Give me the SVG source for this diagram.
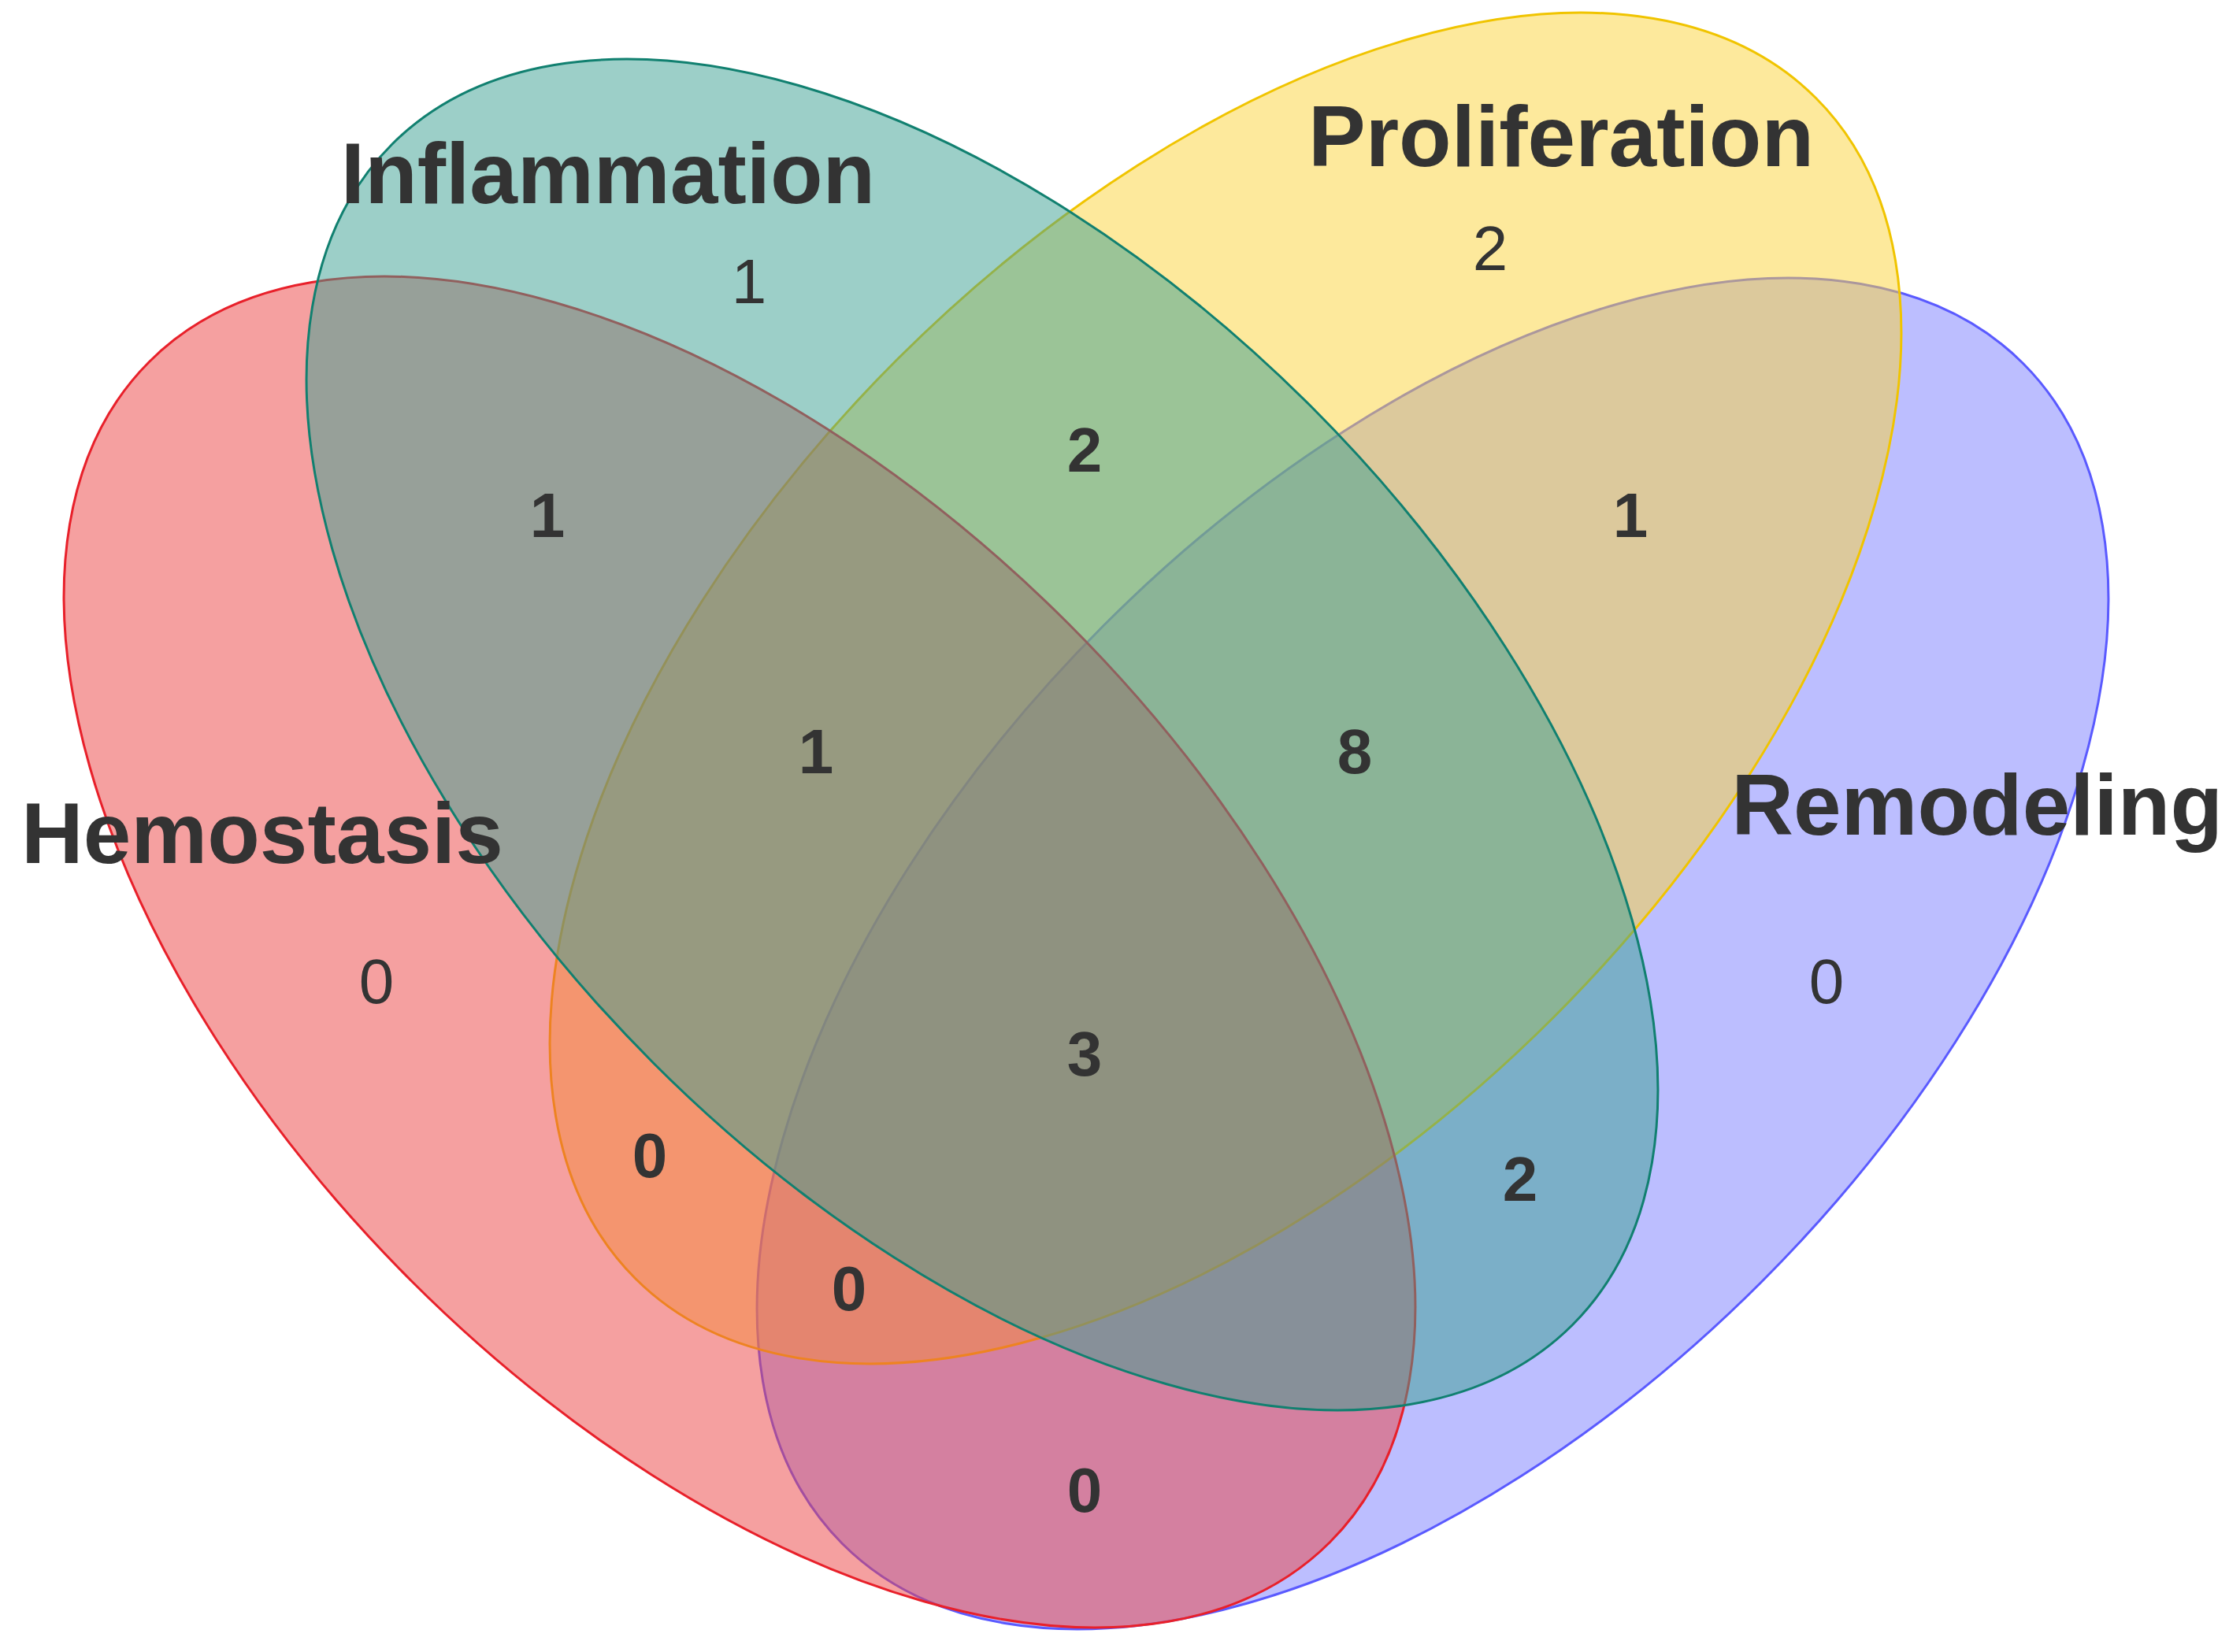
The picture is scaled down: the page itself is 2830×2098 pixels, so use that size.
<svg xmlns="http://www.w3.org/2000/svg" width="2830" height="2098" viewBox="0 0 2830 2098">
<style>
.e{fill-opacity:0.5;stroke-width:3}
.lab{font-family:"Liberation Sans",Arial,sans-serif;font-weight:bold;font-size:109px;fill:#333}
.n{font-family:"Liberation Sans",Arial,sans-serif;font-size:80px;fill:#333;text-anchor:middle}
.b{font-weight:bold}
</style>
<rect width="2830" height="2098" fill="#fff"/>
<g id="remodeling"><ellipse class="e" cx="1819" cy="1211" rx="1060" ry="590" transform="rotate(-45 1819 1211)" fill="#797dff" stroke="#5a5aff"/></g>
<g id="proliferation"><ellipse class="e" cx="1556" cy="874" rx="1060" ry="590" transform="rotate(-45 1556 874)" fill="#fbd339" stroke="#f0c400"/></g>
<g id="hemostasis"><ellipse class="e" cx="939" cy="1209" rx="1060" ry="590" transform="rotate(45 939 1209)" fill="#eb4141" stroke="#e8202a"/></g>
<g id="inflammation"><ellipse class="e" cx="1247" cy="933" rx="1060" ry="590" transform="rotate(45 1247 933)" fill="#399f91" stroke="#118070"/></g>
<g id="labels">
<text class="lab" x="772" y="258" text-anchor="middle">Inflammation</text>
<text class="lab" x="1982" y="211" text-anchor="middle">Proliferation</text>
<text class="lab" x="27" y="1096">Hemostasis</text>
<text class="lab" x="2822" y="1060" text-anchor="end">Remodeling</text>
</g>
<g id="counts">
<text class="n" x="951" y="385">1</text>
<text class="n" x="1892" y="343">2</text>
<text class="n b" x="695" y="682">1</text>
<text class="n b" x="1377" y="599">2</text>
<text class="n b" x="2070" y="682">1</text>
<text class="n b" x="1036" y="982">1</text>
<text class="n b" x="1720" y="982">8</text>
<text class="n" x="478" y="1274">0</text>
<text class="n" x="2319" y="1274">0</text>
<text class="n b" x="1377" y="1366">3</text>
<text class="n b" x="825" y="1495">0</text>
<text class="n b" x="1930" y="1525">2</text>
<text class="n b" x="1078" y="1664">0</text>
<text class="n b" x="1377" y="1920">0</text>
</g>
</svg>
